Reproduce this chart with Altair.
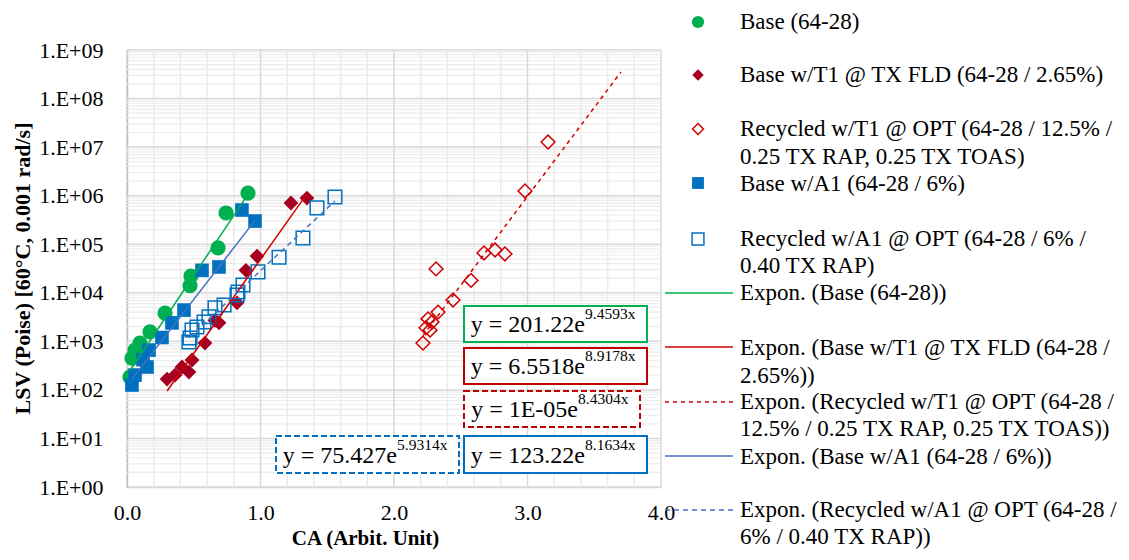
import altair as alt
import pandas as pd

# ------------------------------------------------------------------ data
series_names = [
    "Base (64-28)",
    "Base w/T1 @ TX FLD (64-28 / 2.65%)",
    "Recycled w/T1 @ OPT (64-28 / 12.5% / 0.25 TX RAP, 0.25 TX TOAS)",
    "Base w/A1 (64-28 / 6%)",
    "Recycled w/A1 @ OPT (64-28 / 6% / 0.40 TX RAP)",
]

base_x = [0.906, 0.742, 0.682, 0.479, 0.472, 0.285, 0.172, 0.097, 0.060, 0.037, 0.022]
base_y = [1.13e6, 4.4e5, 8.4e4, 2.2e4, 1.4e4, 3.8e3, 1.56e3, 920, 660, 450, 184]

t1_x = [1.228, 1.348, 0.974, 0.891, 0.824, 0.689, 0.659, 0.584, 0.487, 0.464, 0.412, 0.360, 0.300]
t1_y = [7.05e5, 8.9e5, 5.7e4, 2.9e4, 6.2e3, 2.4e3, 2.7e3, 920, 412, 233, 296, 202, 167]

rt1_x = [3.154, 2.981, 2.831, 2.757, 2.674, 2.315, 2.577, 2.442, 2.330, 2.255, 2.285, 2.240, 2.270, 2.217]
rt1_y = [1.27e7, 1.25e6, 6.3e4, 7.6e4, 6.6e4, 3.1e4, 1.8e4, 7.1e3, 4.0e3, 2.9e3, 2.5e3, 1.9e3, 1.7e3, 920]

a1_x = [0.861, 0.959, 0.689, 0.562, 0.427, 0.337, 0.262, 0.165, 0.120, 0.150, 0.060, 0.037]
a1_y = [5.06e5, 3.0e5, 3.4e4, 2.9e4, 4.4e3, 2.4e3, 1.2e3, 660, 420, 296, 202, 126]

ra1_x = [1.558, 1.423, 1.318, 1.139, 0.981, 0.869, 0.831, 0.824, 0.727, 0.659, 0.614, 0.577, 0.524, 0.487, 0.472, 0.464]
ra1_y = [9.4e5, 5.6e5, 1.34e5, 5.4e4, 2.7e4, 1.45e4, 1.04e4, 9.0e3, 5.6e3, 4.9e3, 3.2e3, 2.5e3, 1.97e3, 1.71e3, 1.17e3, 970]

# exponential trend lines  y = a * exp(b * x)  (coefficients printed on the chart)
trend_names = [
    "Expon. (Base (64-28))",
    "Expon. (Base w/T1 @ TX FLD (64-28 / 2.65%))",
    "Expon. (Recycled w/T1 @ OPT (64-28 / 12.5% / 0.25 TX RAP, 0.25 TX TOAS))",
    "Expon. (Base w/A1 (64-28 / 6%))",
    "Expon. (Recycled w/A1 @ OPT (64-28 / 6% / 0.40 TX RAP))",
]
trend_a = [201.22, 6.5518, 1e-05, 123.22, 75.427]
trend_b = [9.4593, 8.9178, 8.4304, 8.1634, 5.9314]
trend_x0 = [0.022, 0.300, 2.217, 0.037, 0.464]
trend_x1 = [0.906, 1.348, 3.700, 0.959, 1.558]

eq_base = ["y = 201.22e", "y = 6.5518e", "y = 1E-05e", "y = 123.22e", "y = 75.427e"]
eq_sup = ["9.4593x", "8.9178x", "8.4304x", "8.1634x", "5.9314x"]

x_ticks = [0.0, 1.0, 2.0, 3.0, 4.0]
x_major_grid = [1.0, 2.0, 3.0]
x_minor_grid = [0.2, 0.4, 0.6, 0.8, 1.2, 1.4, 1.6, 1.8, 2.2, 2.4, 2.6, 2.8, 3.2, 3.4, 3.6, 3.8]
y_ticks = [1e0, 1e1, 1e2, 1e3, 1e4, 1e5, 1e6, 1e7, 1e8, 1e9]
y_minor_mult = [2, 3, 4, 5, 6, 7, 8, 9]

# ------------------------------------------------------------------ styles
FONT = "Liberation Serif"
W, H = 534, 437
GREEN = "#00B050"
DKRED = "#A50021"
RED = "#D00000"
BLUE = "#0070C0"
TBLUE = "#4472C4"

xscale = alt.Scale(domain=[0, 4], nice=False, zero=False)
yscale = alt.Scale(type="log", domain=[1, 1e9], nice=False)

xaxis = alt.Axis(values=x_ticks, format=".1f", grid=False, ticks=False, domain=True,
                 domainColor="#d9d9d9", domainWidth=1.5,
                 labelFont=FONT, labelFontSize=22, labelColor="black", labelPadding=15,
                 labelOverlap=False, labelFlush=False, labelBound=False,
                 title="CA (Arbit. Unit)", titleFont=FONT, titleFontSize=21,
                 titleFontWeight="bold", titleColor="black",
                 titleX=238, titleY=51, titleBaseline="middle", titleAlign="center")
yaxis = alt.Axis(values=y_ticks, grid=False, ticks=False, domain=True,
                 domainColor="#bfbfbf", domainWidth=1.5,
                 labelExpr="'1.E+' + (round(log(datum.value)/LN10) < 10 ? '0' : '') + round(log(datum.value)/LN10)",
                 labelFont=FONT, labelFontSize=22, labelColor="black", labelPadding=24,
                 labelOverlap=False, labelFlush=False, labelBound=False,
                 title="LSV (Poise) [60°C, 0.001 rad/s]", titleFont=FONT, titleFontSize=22,
                 titleFontWeight="bold", titleColor="black",
                 titleX=-105, titleY=218, titleAngle=270, titleBaseline="middle", titleAlign="center")


def X(field="x"):
    return alt.X(f"{field}:Q", scale=xscale, axis=xaxis)


def Y(field="y"):
    return alt.Y(f"{field}:Q", scale=yscale, axis=yaxis)


layers = []

# gridlines
y_minor_grid = [m * d for d in y_ticks[:-1] for m in y_minor_mult]
layers.append(alt.Chart(pd.DataFrame({"v": x_minor_grid})).mark_rule(color="#ececec", strokeWidth=1.5)
              .encode(x=X("v")))
layers.append(alt.Chart(pd.DataFrame({"v": y_minor_grid})).mark_rule(color="#ececec", strokeWidth=1.2)
              .encode(y=Y("v")))
layers.append(alt.Chart(pd.DataFrame({"v": x_major_grid})).mark_rule(color="#d9d9d9", strokeWidth=1.5)
              .encode(x=X("v")))
layers.append(alt.Chart(pd.DataFrame({"v": y_ticks[1:-1]})).mark_rule(color="#d9d9d9", strokeWidth=1.5)
              .encode(y=Y("v")))

# scatter series
marker_styles = [
    dict(shape="circle", filled=True, color=GREEN, size=230),
    dict(shape="diamond", filled=True, color=DKRED, size=220),
    dict(shape="diamond", filled=False, color=RED, size=190, strokeWidth=1.5),
    dict(shape="square", filled=True, color=BLUE, size=185),
    dict(shape="square", filled=False, color=BLUE, size=185, strokeWidth=1.5),
]
series_xy = [(base_x, base_y), (t1_x, t1_y), (rt1_x, rt1_y), (a1_x, a1_y), (ra1_x, ra1_y)]
for name, (xs, ys), st in zip(series_names, series_xy, marker_styles):
    df = pd.DataFrame({"x": xs, "y": ys, "series": name})
    layers.append(alt.Chart(df).mark_point(opacity=1, **st).encode(x=X(), y=Y()))

# trend lines
trend_styles = [
    dict(color=GREEN, strokeWidth=1.5),
    dict(color=RED, strokeWidth=1.5),
    dict(color=RED, strokeWidth=1.5, strokeDash=[4, 4]),
    dict(color=TBLUE, strokeWidth=1.5),
    dict(color=TBLUE, strokeWidth=1.5, strokeDash=[5, 4]),
]
for name, a, b, x0, x1, st in zip(trend_names, trend_a, trend_b, trend_x0, trend_x1, trend_styles):
    df = pd.DataFrame({"x": [x0, x1], "trend": name})
    layers.append(alt.Chart(df).transform_calculate(y=f"{a} * exp({b} * datum.x)")
                  .mark_line(**st).encode(x=X(), y=Y()))

# equation boxes (layout in pixels)
box_layout = [  # x, x2, y, y2, text right edge
    (337, 520, 256, 292, 458),
    (337, 520, 298, 334, 458),
    (337, 513, 341, 377, 451),
    (337, 520, 386, 423, 458),
    (149, 332, 386, 423, 270),
]
box_styles = [
    dict(stroke=GREEN),
    dict(stroke="#C00000"),
    dict(stroke="#C00000", strokeDash=[6, 3]),
    dict(stroke=BLUE),
    dict(stroke=BLUE, strokeDash=[6, 3]),
]
one = alt.Data(values=[{}])
for (bx, bx2, by, by2, tx), st, tb, ts in zip(box_layout, box_styles, eq_base, eq_sup):
    layers.append(alt.Chart(one).mark_rect(fill="white", strokeWidth=2, **st)
                  .encode(x=alt.value(bx), x2=alt.value(bx2), y=alt.value(by), y2=alt.value(by2)))
    cy = (by + by2) / 2
    layers.append(alt.Chart(one).mark_text(text=tb, align="right", baseline="alphabetic",
                                           font=FONT, fontSize=24, color="black")
                  .encode(x=alt.value(tx), y=alt.value(cy + 8)))
    layers.append(alt.Chart(one).mark_text(text=ts, align="left", baseline="alphabetic",
                                           font=FONT, fontSize=15.5, color="black")
                  .encode(x=alt.value(tx), y=alt.value(cy - 5)))

# legend (layout in pixels, relative to plot origin)
LX_MARK, LX_TEXT = 571, 613
legend_marker_y = [-28, 25, 79, 133, 189]
legend_marker_size = [150, 130, 120, 140, 140]
legend_text_lines = [
    [("Base (64-28)", -28)],
    [("Base w/T1 @ TX FLD (64-28 / 2.65%)", 25)],
    [("Recycled w/T1 @ OPT (64-28 / 12.5% /", 79), ("0.25 TX RAP, 0.25 TX TOAS)", 107)],
    [("Base w/A1 (64-28 / 6%)", 134)],
    [("Recycled w/A1 @ OPT (64-28 / 6% /", 189), ("0.40 TX RAP)", 216)],
    [("Expon. (Base (64-28))", 243)],
    [("Expon. (Base w/T1 @ TX FLD (64-28 /", 298), ("2.65%))", 326)],
    [("Expon. (Recycled w/T1 @ OPT (64-28 /", 352), ("12.5% / 0.25 TX RAP, 0.25 TX TOAS))", 379)],
    [("Expon. (Base w/A1 (64-28 / 6%))", 407)],
    [("Expon. (Recycled w/A1 @ OPT (64-28 /", 460), ("6% / 0.40 TX RAP))", 487)],
]
legend_line_y = [243, 297, 352, 406, 460]

for st, my, ms in zip(marker_styles, legend_marker_y, legend_marker_size):
    s = dict(st)
    s["size"] = ms
    layers.append(alt.Chart(one).mark_point(opacity=1, **s)
                  .encode(x=alt.value(LX_MARK), y=alt.value(my)))
for st, ly in zip(trend_styles, legend_line_y):
    layers.append(alt.Chart(one).mark_rule(**st)
                  .encode(x=alt.value(538), x2=alt.value(606), y=alt.value(ly)))
for lines in legend_text_lines:
    for txt, ty in lines:
        layers.append(alt.Chart(one).mark_text(text=txt, align="left", baseline="middle",
                                               font=FONT, fontSize=23, color="black")
                      .encode(x=alt.value(LX_TEXT), y=alt.value(ty)))

chart = alt.layer(*layers).properties(
    width=W, height=H,
    autosize=alt.AutoSizeParams(type="none"),
    padding={"left": 119, "top": 42, "right": 459, "bottom": 65},
    background="white",
).configure_view(stroke="#d9d9d9", strokeWidth=1.5)

chart.save("out.html", embed_options={"renderer": "svg", "actions": False})
